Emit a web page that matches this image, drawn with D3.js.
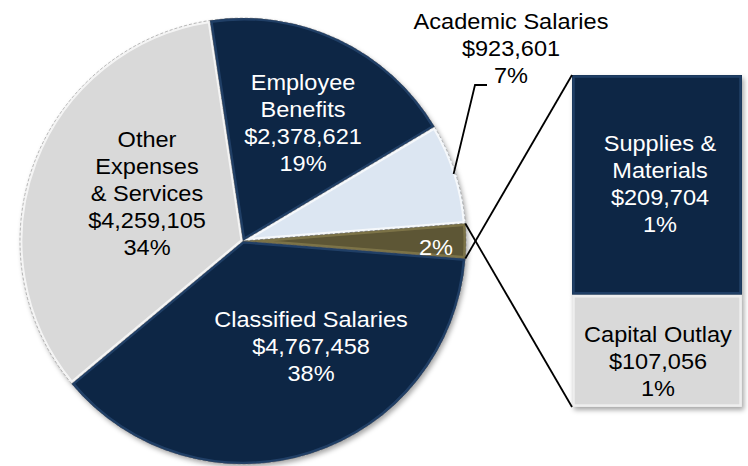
<!DOCTYPE html>
<html>
<head>
<meta charset="utf-8">
<script src="https://cdn.jsdelivr.net/npm/d3@7"></script>
<style>
  body { margin: 0; background: #fff; }
  svg { display: block; font-family: "Liberation Sans", Arial, sans-serif; }
</style>
</head>
<body>
<div id="chart-area"></div>
<script>
//============================DATA============================
var pieCategories = ["Classified Salaries", "Other Expenses & Services", "Employee Benefits", "Academic Salaries"];
var pieValues = [4767458, 4259105, 2378621, 923601];
var piePercents = ["38%", "34%", "19%", "7%"];
var otherPercent = "2%";

var barCategories = ["Supplies & Materials", "Capital Outlay"];
var barValues = [209704, 107056];
var barPercents = ["1%", "1%"];

//============================LAYOUT============================
var width = 748, height = 466;
var cx = 243, cy = 241, radius = 223;
var bar = { x: 572, w: 170, top: 75, bottom: 407 };
var lineH = 27;
var navy = "#112645", light = "#dce6f2", gray = "#d9d9d9", olive = "#5d5634";

// label anchors: centre x, first baseline y, lines
var pieLabelLayout = {
    "Classified Salaries":       { x: 311, y: 327, lines: ["Classified Salaries"], fill: navy, edge: "#2a4a75", text: "#fff" },
    "Other Expenses & Services": { x: 147, y: 147, lines: ["Other", "Expenses", "& Services"], fill: gray, edge: "#ffffff", text: "#000" },
    "Employee Benefits":         { x: 303, y: 90,  lines: ["Employee", "Benefits"], fill: navy, edge: "#2a4a75", text: "#fff" },
    "Academic Salaries":         { x: 511, y: 29,  lines: ["Academic Salaries"], fill: light, edge: "#ffffff", text: "#000" }
};
var barLabelLayout = {
    "Supplies & Materials": { x: 660, y: 151, lines: ["Supplies &", "Materials"], fill: navy, edge: "#2a4a75", text: "#fff" },
    "Capital Outlay":       { x: 658, y: 342, lines: ["Capital Outlay"], fill: gray, edge: "#f6f6f6", text: "#000" }
};

var fmt = d3.format("$,");

var svg = d3.select("#chart-area").append("svg")
    .attr("width", width)
    .attr("height", height);

var defs = svg.append("defs");
var shadow = defs.append("filter").attr("id", "shadow")
    .attr("x", "-10%").attr("y", "-10%").attr("width", "120%").attr("height", "120%");
shadow.append("feDropShadow")
    .attr("dx", 2).attr("dy", 3).attr("stdDeviation", 2.5)
    .attr("flood-color", "#000").attr("flood-opacity", 0.35);

//============================PIE============================
var otherTotal = d3.sum(barValues);
var allValues = pieValues.concat([otherTotal]);
var total = d3.sum(allValues);
var otherSpan = 2 * Math.PI * otherTotal / total;
var a0 = Math.PI / 2 + otherSpan / 2;

var pie = d3.pie().sort(null).startAngle(a0).endAngle(a0 + 2 * Math.PI);
var arcs = pie(allValues);
var arc = d3.arc().innerRadius(0).outerRadius(radius);

var gPie = svg.append("g")
    .attr("transform", "translate(" + cx + "," + cy + ")");

var slices = gPie.append("g").attr("filter", "url(#shadow)");

function sliceStyle(i) {
    return i < pieCategories.length ? pieLabelLayout[pieCategories[i]]
        : { fill: olive, edge: "#8a8050" };
}

arcs.forEach(function(a, i) {
    defs.append("clipPath").attr("id", "clip-slice-" + i)
        .append("path").attr("d", arc(a));
    slices.append("path")
        .attr("d", arc(a))
        .attr("fill", sliceStyle(i).fill);
});

// bevel highlight and dashed edges
arcs.forEach(function(a, i) {
    gPie.append("g").attr("clip-path", "url(#clip-slice-" + i + ")")
        .append("path")
        .attr("d", arc(a))
        .attr("fill", "none")
        .attr("stroke", sliceStyle(i).edge)
        .attr("stroke-opacity", 0.7)
        .attr("stroke-width", 5);
    gPie.append("path")
        .attr("d", arc(a))
        .attr("fill", "none")
        .attr("stroke", "#555")
        .attr("stroke-opacity", 0.55)
        .attr("stroke-width", 0.7)
        .attr("stroke-dasharray", "3,2");
});

//============================BAR============================
var y = d3.scaleLinear()
    .domain([0, otherTotal])
    .range([bar.top, bar.bottom]);
var stackStart = d3.cumsum([0].concat(barValues));

var gBar = svg.append("g");
barCategories.forEach(function(c, i) {
    var y0 = y(stackStart[i]), y1 = y(stackStart[i + 1]);
    gBar.append("rect")
        .attr("x", bar.x).attr("y", y0)
        .attr("width", bar.w).attr("height", y1 - y0)
        .attr("fill", barLabelLayout[c].fill)
        .attr("filter", "url(#shadow)");
    gBar.append("rect")
        .attr("x", bar.x + 1.5).attr("y", y0 + 1.5)
        .attr("width", bar.w - 3).attr("height", y1 - y0 - 3)
        .attr("fill", "none")
        .attr("stroke", barLabelLayout[c].edge)
        .attr("stroke-opacity", 0.7)
        .attr("stroke-width", 2.5);
});

//============================CONNECTORS============================
var otherArc = arcs[arcs.length - 1];
function edgePoint(angle, r) {
    return [cx + r * Math.sin(angle), cy - r * Math.cos(angle)];
}
var pTop = edgePoint(otherArc.endAngle, radius);
var pBot = edgePoint(otherArc.startAngle, radius);
svg.append("line")
    .attr("x1", pTop[0]).attr("y1", pTop[1])
    .attr("x2", bar.x).attr("y2", y(0))
    .attr("stroke", "#000").attr("stroke-width", 1.8);
svg.append("line")
    .attr("x1", pBot[0]).attr("y1", pBot[1])
    .attr("x2", bar.x).attr("y2", y(otherTotal))
    .attr("stroke", "#000").attr("stroke-width", 1.8);

// academic leader line
var acad = arcs[3];
var pAcad = edgePoint((acad.startAngle + acad.endAngle) / 2, radius - 2);
svg.append("path")
    .attr("d", d3.line()([pAcad, [475, 85], [487, 85]]))
    .attr("fill", "none")
    .attr("stroke", "#000").attr("stroke-width", 1.8);

//============================LABELS============================
function drawLabel(layout, lines) {
    var t = svg.append("text")
        .attr("text-anchor", "middle")
        .attr("font-size", "22px")
        .attr("fill", layout.text)
        .attr("transform", "translate(" + layout.x + "," + layout.y + ") scale(1.07,1)");
    lines.forEach(function(l, i) {
        t.append("tspan").attr("x", 0).attr("y", i * lineH).text(l);
    });
}

pieCategories.forEach(function(c, i) {
    var L = pieLabelLayout[c];
    drawLabel(L, L.lines.concat([fmt(pieValues[i]), piePercents[i]]));
});
barCategories.forEach(function(c, i) {
    var L = barLabelLayout[c];
    drawLabel(L, L.lines.concat([fmt(barValues[i]), barPercents[i]]));
});
drawLabel({ x: 436, y: 255, text: "#fff" }, [otherPercent]);
</script>
</body>
</html>
